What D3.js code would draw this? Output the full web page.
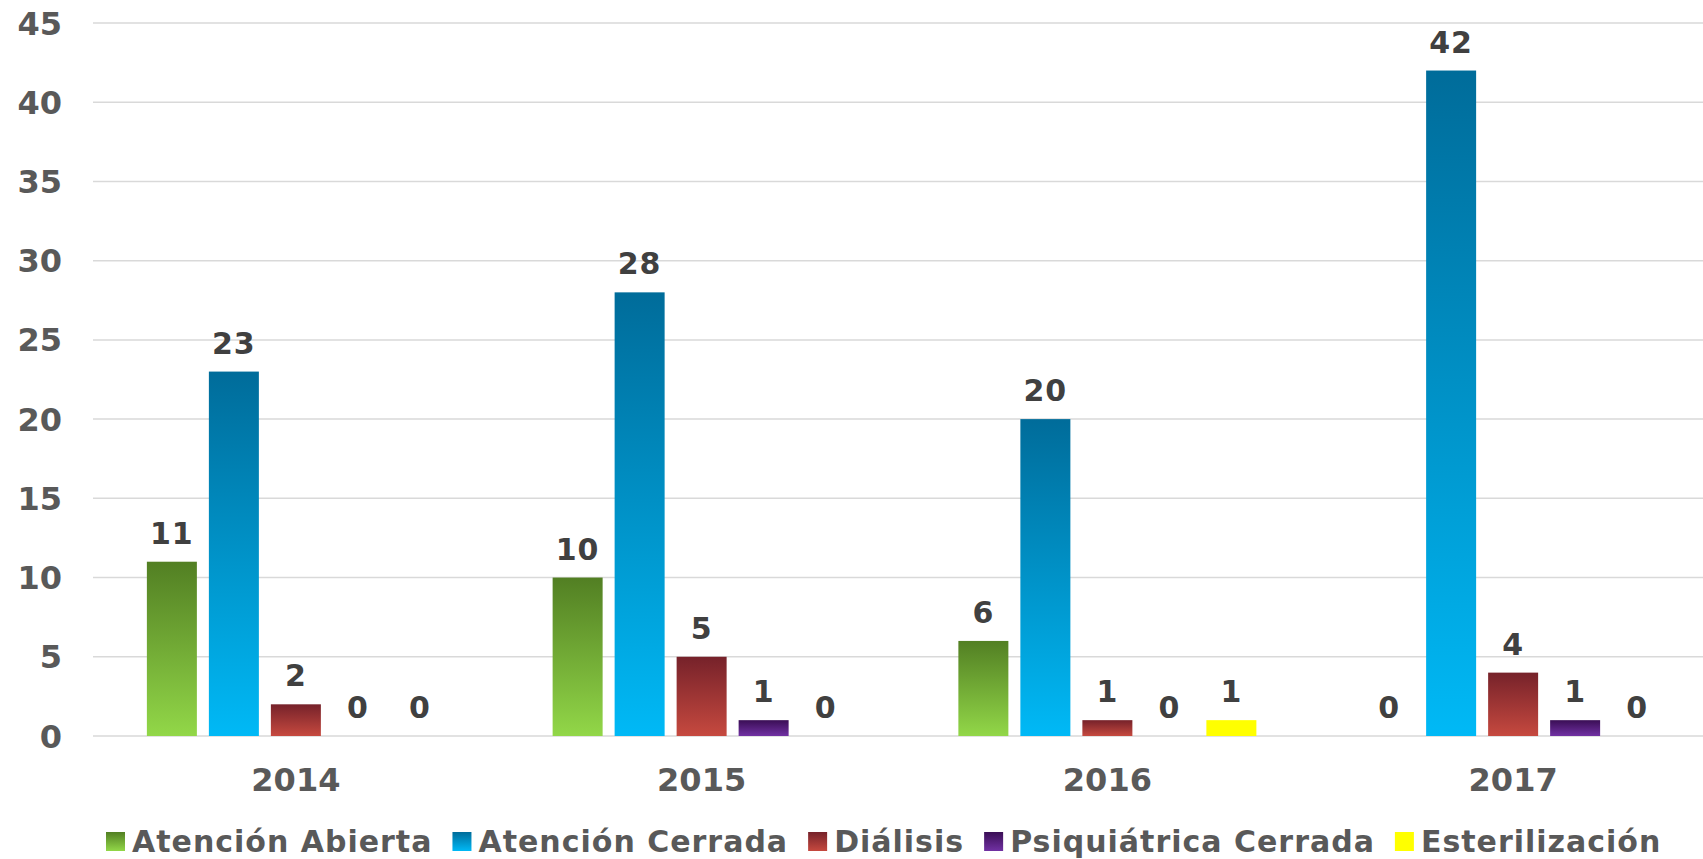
<!DOCTYPE html>
<html>
<head>
<meta charset="utf-8">
<script src="https://cdn.jsdelivr.net/npm/d3@7"></script>
<style>
	html, body { margin: 0; padding: 0; background: #fff; }
	svg { display: block; font-family: Verdana, 'DejaVu Sans', sans-serif; font-weight: bold; }
</style>
</head>
<body>
<div id="root"></div>
<script>
// data
const years = ['2014', '2015', '2016', '2017']
const seriesNames = ['Atención Abierta', 'Atención Cerrada', 'Diálisis', 'Psiquiátrica Cerrada', 'Esterilización']
const atencionAbierta = [11, 10, 6, 0]
const atencionCerrada = [23, 28, 20, 42]
const dialisis = [2, 5, 1, 4]
const psiquiatrica = [0, 1, 0, 1]
const esterilizacion = [0, 0, 1, 0]
const yTicks = [0, 5, 10, 15, 20, 25, 30, 35, 40, 45]

const seriesValues = [atencionAbierta, atencionCerrada, dialisis, psiquiatrica, esterilizacion]

const C = {
	width: 1703,
	height: 859,
	left: 93,
	right: 1716,
	top: 23,
	bottom: 736,
	// [top, bottom] gradient colours per series
	colors: [
		['#527f23', '#92d748'],
		['#006c9a', '#00b9f6'],
		['#76222a', '#c6493f'],
		['#3a0e55', '#7131a3'],
		['#ffff00', '#ffff00'],
	]
}

const svg = d3.select('#root').append('svg')
	.attr('width', C.width)
	.attr('height', C.height)

const defs = svg.append('defs')
C.colors.forEach((c, i) => {
	const g = defs.append('linearGradient')
		.attr('id', 'grad' + i)
		.attr('x1', 0).attr('y1', 0)
		.attr('x2', 0).attr('y2', 1)
	g.append('stop').attr('offset', '0%').attr('stop-color', c[0])
	g.append('stop').attr('offset', '100%').attr('stop-color', c[1])
})

const x0 = d3.scaleBand()
	.domain(years)
	.range([C.left, C.right])

const y = d3.scaleLinear()
	.domain([0, 45])
	.range([C.bottom, C.top])

//inner band for the five bars, 62px step, 50px bar
const x1 = d3.scaleBand()
	.domain(d3.range(seriesNames.length))
	.range([-155, 155])
	.paddingInner(12 / 62)
	.paddingOuter(6 / 62)

// gridlines
svg.append('g')
	.selectAll('line')
	.data(yTicks)
	.enter()
	.append('line')
	.attr('x1', C.left)
	.attr('x2', C.width)
	.attr('y1', d => y(d))
	.attr('y2', d => y(d))
	.attr('stroke', '#d9d9d9')
	.attr('stroke-width', 1.5)

// y labels
svg.append('g')
	.selectAll('text')
	.data(yTicks)
	.enter()
	.append('text')
	.attr('x', 62)
	.attr('y', d => y(d))
	.attr('dy', '0.36em')
	.attr('text-anchor', 'end')
	.attr('font-size', 32)
	.attr('fill', '#595959')
	.text(d => d)

// bars
const flat = []
years.forEach((yr, gi) => {
	seriesValues.forEach((vals, si) => {
		flat.push({ year: yr, si, value: vals[gi] })
	})
})

const barX = d => x0(d.year) + x0.bandwidth() / 2 + x1(d.si)

svg.append('g')
	.selectAll('rect')
	.data(flat.filter(d => d.value > 0))
	.enter()
	.append('rect')
	.attr('x', barX)
	.attr('y', d => y(d.value))
	.attr('width', x1.bandwidth())
	.attr('height', d => y(0) - y(d.value))
	.attr('fill', d => `url(#grad${d.si})`)

// value labels
svg.append('g')
	.selectAll('text')
	.data(flat)
	.enter()
	.append('text')
	.attr('x', d => barX(d) + x1.bandwidth() / 2)
	.attr('y', d => y(d.value) - 18)
	.attr('text-anchor', 'middle')
	.attr('font-size', 30)
	.attr('letter-spacing', 1)
	.attr('fill', '#404040')
	.text(d => d.value)

// x labels
svg.append('g')
	.selectAll('text')
	.data(years)
	.enter()
	.append('text')
	.attr('x', d => x0(d) + x0.bandwidth() / 2)
	.attr('y', 791)
	.attr('text-anchor', 'middle')
	.attr('font-size', 32)
	.attr('fill', '#595959')
	.text(d => d)

// legend
const legend = svg.append('g').attr('class', 'legend')
let lx = 106
seriesNames.forEach((name, i) => {
	const item = legend.append('g').attr('transform', `translate(${lx},0)`)
	item.append('rect')
		.attr('x', 0)
		.attr('y', 832)
		.attr('width', 19)
		.attr('height', 19)
		.attr('fill', `url(#grad${i})`)
	const t = item.append('text')
		.attr('x', 26)
		.attr('y', 852)
		.attr('font-size', 30)
		.attr('letter-spacing', 1)
		.attr('fill', '#595959')
		.text(name)
	lx += 26 + t.node().getComputedTextLength() + 20
})
</script>
</body>
</html>
